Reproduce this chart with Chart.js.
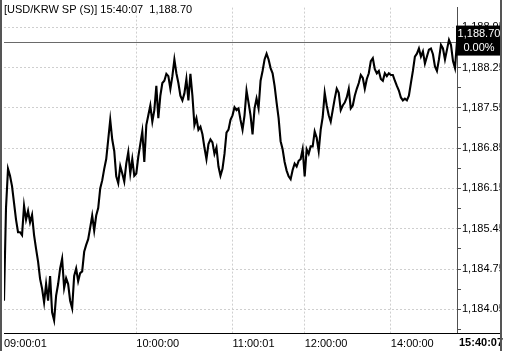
<!DOCTYPE html>
<html>
<head>
<meta charset="utf-8">
<script src="https://cdn.jsdelivr.net/npm/chart.js@4.4.0/dist/chart.umd.min.js"></script>
<style>
  html, body { margin: 0; padding: 0; background: #fff; }
  canvas { display: block; }
</style>
</head>
<body>
<canvas id="fxChart" width="506" height="351"></canvas>
<script>
const symbol = '[USD/KRW SP (S)]';
const lastTime = '15:40:07';
const lastPrice = 1188.70;
const changePct = '0.00%';

const timeLabels = ['09:00:01', '10:00:00', '11:00:01', '12:00:00', '14:00:00'];
const timeTickIdx = [0, 66, 114, 150, 193];
const priceTicks = [1184.05, 1184.75, 1185.45, 1186.15, 1186.85, 1187.55, 1188.25, 1188.95];

// tick prices left to right
const prices = [
  1184.20, 1185.81, 1186.49, 1186.37, 1186.19, 1185.90, 1185.61, 1185.39, 1185.39, 1185.34,
  1185.85, 1185.61, 1185.76, 1185.56, 1185.69, 1185.34, 1185.10, 1184.88, 1184.58, 1184.41,
  1184.17, 1184.49, 1184.20, 1184.63, 1184.00, 1183.86, 1184.29, 1184.49, 1184.76, 1184.93,
  1184.42, 1184.59, 1184.49, 1184.20, 1184.07, 1184.63, 1184.76, 1184.54, 1184.68, 1184.71,
  1185.05, 1185.17, 1185.27, 1185.47, 1185.68, 1185.42, 1185.68, 1185.81, 1186.15, 1186.29,
  1186.49, 1186.66, 1187.00, 1187.34, 1187.00, 1186.80, 1186.36, 1186.24, 1186.54, 1186.41,
  1186.27, 1186.58, 1186.78, 1186.41, 1186.66, 1186.37, 1186.41, 1186.70, 1186.92, 1187.14,
  1186.61, 1187.25, 1187.42, 1187.59, 1187.31, 1187.51, 1187.93, 1187.37, 1187.76, 1187.98,
  1188.02, 1188.14, 1188.10, 1187.88, 1188.10, 1188.39, 1188.15, 1187.98, 1187.76, 1187.68,
  1187.80, 1188.05, 1187.68, 1188.14, 1187.76, 1187.25, 1187.37, 1187.17, 1187.22, 1187.09,
  1186.86, 1186.66, 1186.92, 1187.00, 1186.95, 1186.75, 1186.86, 1186.53, 1186.37, 1186.49,
  1186.75, 1187.12, 1187.17, 1187.34, 1187.42, 1187.56, 1187.51, 1187.54, 1187.34, 1187.17,
  1187.42, 1187.85, 1187.64, 1187.42, 1187.09, 1187.54, 1187.71, 1187.54, 1188.02, 1188.19,
  1188.39, 1188.49, 1188.39, 1188.24, 1188.15, 1187.93, 1187.64, 1187.37, 1186.97, 1186.83,
  1186.61, 1186.46, 1186.36, 1186.31, 1186.47, 1186.58, 1186.53, 1186.63, 1186.66, 1186.83,
  1186.36, 1186.83, 1186.75, 1186.88, 1186.88, 1187.14, 1187.03, 1186.80, 1187.17, 1187.39,
  1187.81, 1187.59, 1187.42, 1187.31, 1187.51, 1187.71, 1187.88, 1187.81, 1187.51, 1187.59,
  1187.64, 1187.73, 1187.88, 1187.54, 1187.59, 1187.76, 1187.88, 1187.98, 1188.12, 1188.07,
  1187.88, 1188.05, 1188.15, 1188.36, 1188.41, 1188.22, 1188.15, 1188.19, 1188.05, 1188.02,
  1188.15, 1188.10, 1188.15, 1188.12, 1188.12, 1188.02, 1187.93, 1187.85, 1187.73, 1187.68,
  1187.71, 1187.68, 1187.76, 1187.98, 1188.19, 1188.44, 1188.49, 1188.58, 1188.44, 1188.53,
  1188.32, 1188.44, 1188.56, 1188.58, 1188.48, 1188.27, 1188.19, 1188.39, 1188.64, 1188.58,
  1188.39, 1188.56, 1188.73, 1188.64, 1188.36, 1188.24, 1188.70
];

const FONT = 'Liberation Sans, Arial, sans-serif';
const fmtPrice = v => v.toLocaleString('en-US', { minimumFractionDigits: 2, maximumFractionDigits: 2 });

// frame, title, last price line and price box
const overlay = {
  id: 'overlay',
  beforeDraw(chart) {
    const c = chart.ctx;
    c.save();
    c.fillStyle = '#fff';
    c.fillRect(0, 0, chart.width, chart.height);
    c.restore();
  },
  beforeDatasetsDraw(chart) {
    const c = chart.ctx, a = chart.chartArea;
    const y = Math.round(chart.scales.y.getPixelForValue(lastPrice)) + 0.5;
    c.save();
    c.strokeStyle = '#6a6a6a';
    c.lineWidth = 1;
    c.beginPath();
    c.moveTo(a.left, y);
    c.lineTo(a.right, y);
    c.stroke();
    c.restore();
  },
  afterDraw(chart) {
    const c = chart.ctx, a = chart.chartArea;
    c.save();
    // title
    c.fillStyle = '#000';
    c.font = '11px ' + FONT;
    c.textBaseline = 'alphabetic';
    c.textAlign = 'left';
    c.fillText(symbol + ' ' + lastTime + '  ' + fmtPrice(lastPrice), 4, 13);

    // bottom line across the whole width
    c.fillStyle = '#000';
    c.fillRect(a.left, a.bottom, 500 - a.left, 1);

    // last time label under the price axis
    c.font = 'bold 11px ' + FONT;
    c.textBaseline = 'middle';
    c.fillText(lastTime, a.right + 2, a.bottom + 10);

    // price box
    const py = chart.scales.y.getPixelForValue(lastPrice);
    c.fillStyle = '#000';
    c.fillRect(a.right - 1, py - 16, 45, 30);
    c.fillStyle = '#fff';
    c.font = '11px ' + FONT;
    c.textAlign = 'center';
    c.fillText(fmtPrice(lastPrice), a.right + 22, py - 8);
    c.fillText(changePct, a.right + 22, py + 6);

    // outer frame
    c.fillStyle = '#555';
    c.fillRect(0, 0, 2, chart.height);
    c.fillRect(500, 0, 2, chart.height);
    c.restore();
  }
};

const ctx = document.getElementById('fxChart').getContext('2d');

const fxChart = new Chart(ctx, {
  type: 'line',
  data: {
    datasets: [{
      data: prices.map((p, i) => ({ x: i, y: p })),
      borderColor: '#000',
      borderWidth: 2.1,
      pointRadius: 0,
      tension: 0,
      fill: false
    }]
  },
  options: {
    responsive: false,
    devicePixelRatio: 1,
    animation: false,
    layout: { padding: { left: 3, right: 4, top: 0, bottom: 0 } },
    plugins: { legend: { display: false }, tooltip: { enabled: false } },
    scales: {
      x: {
        type: 'linear',
        min: 0,
        max: prices.length - 1,
        afterBuildTicks: axis => { axis.ticks = timeTickIdx.map(v => ({ value: v })); },
        afterFit: axis => { axis.height = 18; },
        grid: {
          drawTicks: false,
          color: c => (c.tick && c.tick.value === 0) ? 'rgba(0,0,0,0)' : '#cfcfcf'
        },
        border: { display: false, dash: [2, 2] },
        ticks: {
          autoSkip: false,
          maxRotation: 0,
          align: 'start',
          padding: 4,
          color: '#000',
          font: { family: FONT, size: 11 },
          callback: (v, i) => timeLabels[i]
        }
      },
      y: {
        position: 'right',
        min: 1183.64,
        max: 1189.29,
        afterBuildTicks: axis => {
          const t = [];
          priceTicks.forEach(p => {
            t.push({ value: p });
            t.push({ value: +(p + 0.35).toFixed(2), minor: true });
          });
          t.unshift({ value: +(priceTicks[0] - 0.35).toFixed(2), minor: true });
          axis.ticks = t.filter(k => k.value >= 1183.64 && k.value <= 1189.29);
        },
        afterFit: axis => { axis.width = 45; },
        grid: {
          tickLength: 4,
          tickColor: '#505050',
          tickBorderDash: [],
          color: c => (c.tick && c.tick.minor) ? 'rgba(0,0,0,0)' : '#cfcfcf'
        },
        border: { display: true, color: '#505050', dash: [2, 2] },
        ticks: {
          autoSkip: false,
          padding: 1,
          color: '#000',
          font: { family: FONT, size: 11 },
          callback: function (v, i, ticks) { return ticks[i].minor ? '' : fmtPrice(v); }
        }
      }
    }
  },
  plugins: [overlay]
});
</script>
</body>
</html>
